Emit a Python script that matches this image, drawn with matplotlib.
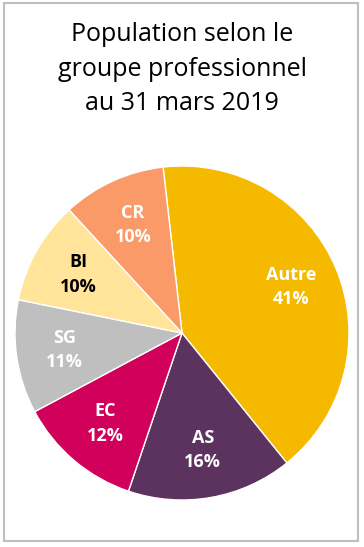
import numpy as np
import matplotlib.pyplot as plt
from matplotlib.patches import Rectangle

labels = ['Autre', 'AS', 'EC', 'SG', 'BI', 'CR']
values = [41, 16, 12, 11, 10, 10]
colors = ['#F5B900', '#5C325E', '#D1005A', '#BFBFBF', '#FFE49A', '#FA9A68']
text_colors = ['white', 'white', 'white', 'white', 'black', 'white']

plt.rcParams['font.family'] = ['Open Sans', 'DejaVu Sans']

fig = plt.figure(figsize=(3.64, 5.47), dpi=100)
ax = fig.add_axes([15 / 364, 47 / 547, 334 / 364, 334 / 547])

wedges, texts = ax.pie(values, colors=colors, startangle=96.5, counterclock=False,
                       radius=1, wedgeprops=dict(edgecolor='white', linewidth=1))
for w, lab, v, tc in zip(wedges, labels, values, text_colors):
    ang = np.deg2rad((w.theta1 + w.theta2) / 2)
    ax.text(0.71 * np.cos(ang), 0.71 * np.sin(ang), f'{lab}\n{v}%', ha='center', va='center',
            color=tc, fontsize=13, fontweight='bold', linespacing=1.45)
ax.set_xlim(-1, 1)
ax.set_ylim(-1, 1)
ax.set_aspect('equal')
ax.axis('off')

fig.text(0.5, 1 - 69 / 547, 'Population selon le\ngroupe professionnel\nau 31 mars 2019',
         ha='center', va='center', fontsize=18, linespacing=1.5)

fig.patches.append(Rectangle((4 / 364, 6 / 547), 354 / 364, 538 / 547, transform=fig.transFigure,
                             fill=False, edgecolor='#BFBFBF', linewidth=1.5))

fig.savefig('out.png', dpi=100)
